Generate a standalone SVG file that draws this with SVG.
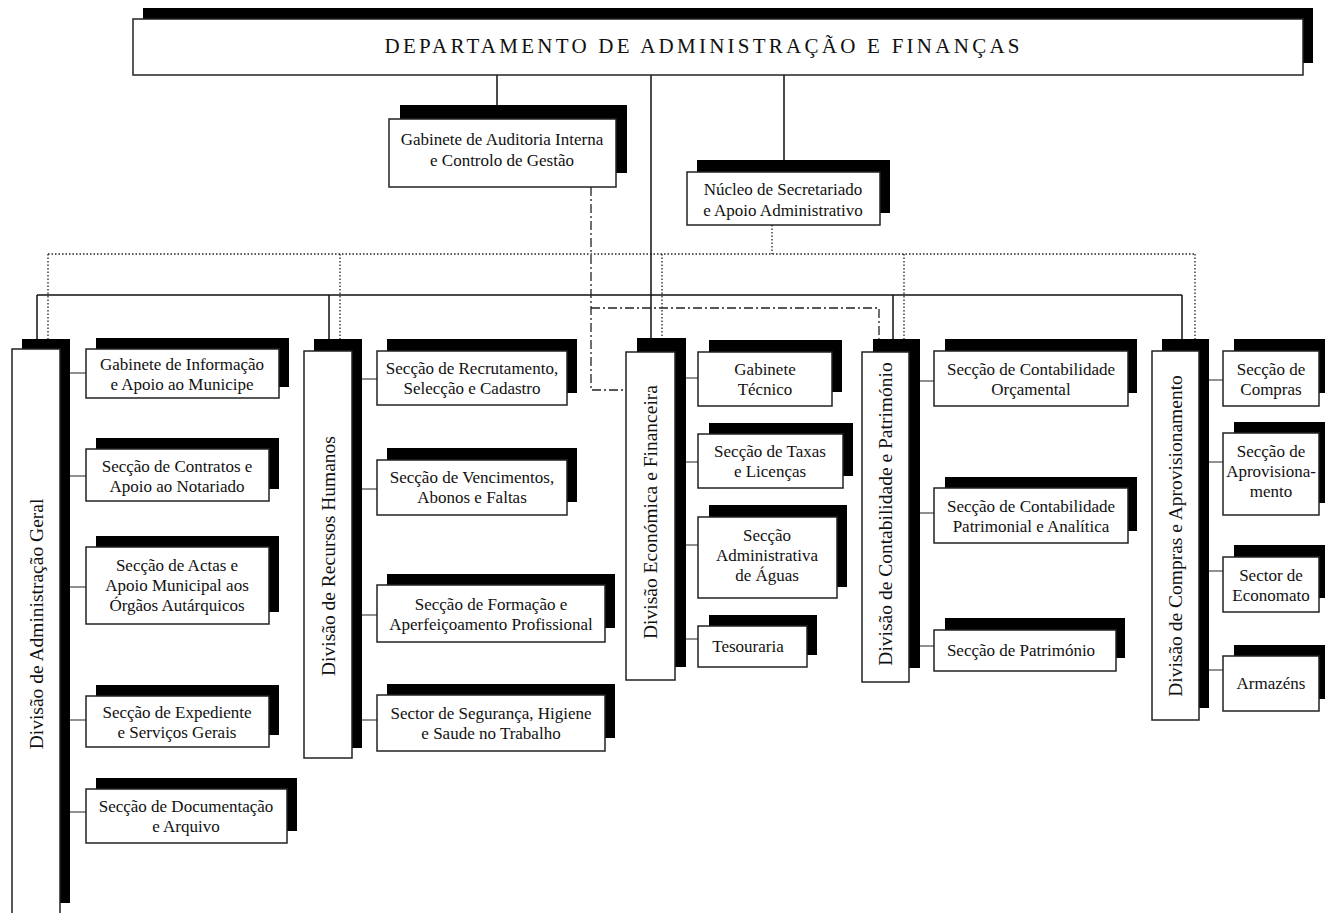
<svg xmlns="http://www.w3.org/2000/svg" width="1325" height="913" viewBox="0 0 1325 913">
<style>
.sh{fill:#000}
.bx{fill:#fff;stroke:#222;stroke-width:1.5}
.t{font-family:"Liberation Serif","Times New Roman",serif;font-size:17px;text-anchor:middle;fill:#111}
.dv{font-size:19.5px}
.hd{font-size:21px}
.ln{stroke:#111;stroke-width:1.5;fill:none}
.cn{stroke:#222;stroke-width:1.2;fill:none}
.dot{stroke:#222;stroke-width:1.3;stroke-dasharray:1.5 2;fill:none}
.dd{stroke:#222;stroke-width:1.3;stroke-dasharray:9 3 2 3;fill:none}
</style>
<rect width="1325" height="913" fill="#fff"/>

<g id="connectors">
  <path class="ln" d="M497 75V105M651 75V339M784 75V160"/>
  <path class="ln" d="M37 295H1182M37 295V340M329 295V340M893 295V339M1182 295V339"/>
  <path class="dot" d="M772 225V254M48 254H1195M48 254V340M340 254V340M662 254V338M904 254V339M1195 254V339"/>
  <path class="dd" d="M591 187V390H626M591 308H879V339"/>
  <path class="cn" d="M70 373H86M70 476H86M70 587H86M70 720H86M70 812H86"/>
  <path class="cn" d="M362 379H377M362 489H377M362 615H377M362 720H377"/>
  <path class="cn" d="M686 378H698M686 462H698M686 545H698M686 639H698"/>
  <path class="cn" d="M920 381H934M920 513H934M920 646H934"/>
  <path class="cn" d="M1209 380H1223M1209 462H1223M1209 571H1223M1209 670H1223"/>
</g>

<g id="departamento">
  <rect class="sh" x="143" y="8" width="1170" height="55"/>
  <rect class="bx" x="133" y="19" width="1170" height="56"/>
  <text class="t hd" x="702" y="53" textLength="635" lengthAdjust="spacing">DEPARTAMENTO DE ADMINISTRAÇÃO E FINANÇAS</text>
</g>

<g id="gabinete-auditoria">
  <rect class="sh" x="400" y="105" width="227" height="68"/>
  <rect class="bx" x="389" y="119" width="227" height="68"/>
  <text class="t" x="502" y="145">Gabinete de Auditoria Interna</text>
  <text class="t" x="502" y="166">e Controlo de Gestão</text>
</g>

<g id="nucleo">
  <rect class="sh" x="697" y="160" width="193" height="53"/>
  <rect class="bx" x="687" y="172" width="193" height="53"/>
  <text class="t" x="783" y="195">Núcleo de Secretariado</text>
  <text class="t" x="783" y="216">e Apoio Administrativo</text>
</g>

<g id="div-adm-geral">
  <rect class="sh" x="22" y="339" width="48" height="564"/>
  <rect class="bx" x="12" y="349" width="48" height="575"/>
  <text class="t dv" transform="translate(36,624) rotate(-90)" y="6.5">Divisão de Administração Geral</text>
</g>
<g id="gab-informacao">
  <rect class="sh" x="96" y="338" width="193" height="49"/>
  <rect class="bx" x="86" y="349" width="193" height="49"/>
  <text class="t" x="182" y="370">Gabinete de Informação</text>
  <text class="t" x="182" y="390">e Apoio ao Municipe</text>
</g>
<g id="sec-contratos">
  <rect class="sh" x="96" y="438" width="183" height="51"/>
  <rect class="bx" x="86" y="449" width="183" height="52"/>
  <text class="t" x="177" y="472">Secção de Contratos e</text>
  <text class="t" x="177" y="492">Apoio ao Notariado</text>
</g>
<g id="sec-actas">
  <rect class="sh" x="96" y="536" width="183" height="76"/>
  <rect class="bx" x="86" y="547" width="183" height="77"/>
  <text class="t" x="177" y="571">Secção de Actas e</text>
  <text class="t" x="177" y="591">Apoio Municipal aos</text>
  <text class="t" x="177" y="611">Órgãos Autárquicos</text>
</g>
<g id="sec-expediente">
  <rect class="sh" x="96" y="685" width="183" height="50"/>
  <rect class="bx" x="86" y="696" width="183" height="51"/>
  <text class="t" x="177" y="718">Secção de Expediente</text>
  <text class="t" x="177" y="738">e Serviços Gerais</text>
</g>
<g id="sec-documentacao">
  <rect class="sh" x="96" y="778" width="201" height="53"/>
  <rect class="bx" x="86" y="789" width="201" height="54"/>
  <text class="t" x="186" y="812">Secção de Documentação</text>
  <text class="t" x="186" y="832">e Arquivo</text>
</g>

<g id="div-rh">
  <rect class="sh" x="314" y="339" width="48" height="409"/>
  <rect class="bx" x="304" y="351" width="48" height="407"/>
  <text class="t dv" transform="translate(328,556) rotate(-90)" y="6.5">Divisão de Recursos Humanos</text>
</g>
<g id="sec-recrutamento">
  <rect class="sh" x="387" y="339" width="190" height="54"/>
  <rect class="bx" x="377" y="351" width="190" height="54"/>
  <text class="t" x="472" y="374">Secção de Recrutamento,</text>
  <text class="t" x="472" y="394">Selecção e Cadastro</text>
</g>
<g id="sec-vencimentos">
  <rect class="sh" x="387" y="448" width="190" height="54"/>
  <rect class="bx" x="377" y="460" width="190" height="55"/>
  <text class="t" x="472" y="483">Secção de Vencimentos,</text>
  <text class="t" x="472" y="503">Abonos e Faltas</text>
</g>
<g id="sec-formacao">
  <rect class="sh" x="387" y="574" width="228" height="54"/>
  <rect class="bx" x="377" y="585" width="228" height="57"/>
  <text class="t" x="491" y="610">Secção de Formação e</text>
  <text class="t" x="491" y="630">Aperfeiçoamento Profissional</text>
</g>
<g id="sec-seguranca">
  <rect class="sh" x="387" y="684" width="228" height="54"/>
  <rect class="bx" x="377" y="695" width="228" height="56"/>
  <text class="t" x="491" y="719">Sector de Segurança, Higiene</text>
  <text class="t" x="491" y="739">e Saude no Trabalho</text>
</g>

<g id="div-economica">
  <rect class="sh" x="637" y="338" width="49" height="329"/>
  <rect class="bx" x="626" y="352" width="49" height="328"/>
  <text class="t dv" transform="translate(650,512) rotate(-90)" y="6.5">Divisão Económica e Financeira</text>
</g>
<g id="gab-tecnico">
  <rect class="sh" x="709" y="340" width="133" height="52"/>
  <rect class="bx" x="698" y="352" width="134" height="54"/>
  <text class="t" x="765" y="375">Gabinete</text>
  <text class="t" x="765" y="395">Técnico</text>
</g>
<g id="sec-taxas">
  <rect class="sh" x="709" y="423" width="144" height="53"/>
  <rect class="bx" x="698" y="434" width="145" height="54"/>
  <text class="t" x="770" y="457">Secção de Taxas</text>
  <text class="t" x="770" y="477">e Licenças</text>
</g>
<g id="sec-aguas">
  <rect class="sh" x="709" y="505" width="138" height="82"/>
  <rect class="bx" x="698" y="517" width="139" height="81"/>
  <text class="t" x="767" y="541">Secção</text>
  <text class="t" x="767" y="561">Administrativa</text>
  <text class="t" x="767" y="581">de Águas</text>
</g>
<g id="tesouraria">
  <rect class="sh" x="709" y="615" width="108" height="40"/>
  <rect class="bx" x="698" y="626" width="109" height="41"/>
  <text class="t" x="748" y="652">Tesouraria</text>
</g>

<g id="div-contabilidade">
  <rect class="sh" x="873" y="339" width="47" height="329"/>
  <rect class="bx" x="862" y="352" width="47" height="330"/>
  <text class="t dv" transform="translate(885,514) rotate(-90)" y="6.5">Divisão de Contabilidade e Património</text>
</g>
<g id="sec-orcamental">
  <rect class="sh" x="945" y="339" width="192" height="54"/>
  <rect class="bx" x="934" y="351" width="194" height="55"/>
  <text class="t" x="1031" y="375">Secção de Contabilidade</text>
  <text class="t" x="1031" y="395">Orçamental</text>
</g>
<g id="sec-patrimonial">
  <rect class="sh" x="945" y="477" width="192" height="54"/>
  <rect class="bx" x="934" y="488" width="194" height="55"/>
  <text class="t" x="1031" y="512">Secção de Contabilidade</text>
  <text class="t" x="1031" y="532">Patrimonial e Analítica</text>
</g>
<g id="sec-patrimonio">
  <rect class="sh" x="945" y="618" width="180" height="40"/>
  <rect class="bx" x="934" y="630" width="182" height="41"/>
  <text class="t" x="1021" y="656">Secção de Património</text>
</g>

<g id="div-compras">
  <rect class="sh" x="1162" y="339" width="47" height="369"/>
  <rect class="bx" x="1152" y="351" width="47" height="369"/>
  <text class="t dv" transform="translate(1175,536) rotate(-90)" y="6.5">Divisão de Compras e Aprovisionamento</text>
</g>
<g id="sec-compras">
  <rect class="sh" x="1234" y="339" width="96" height="54"/>
  <rect class="bx" x="1223" y="351" width="96" height="55"/>
  <text class="t" x="1271" y="375">Secção de</text>
  <text class="t" x="1271" y="395">Compras</text>
</g>
<g id="sec-aprovisionamento">
  <rect class="sh" x="1234" y="422" width="96" height="81"/>
  <rect class="bx" x="1223" y="433" width="96" height="82"/>
  <text class="t" x="1271" y="457">Secção de</text>
  <text class="t" x="1271" y="477">Aprovisiona-</text>
  <text class="t" x="1271" y="497">mento</text>
</g>
<g id="sector-economato">
  <rect class="sh" x="1234" y="545" width="96" height="53"/>
  <rect class="bx" x="1223" y="557" width="96" height="55"/>
  <text class="t" x="1271" y="581">Sector de</text>
  <text class="t" x="1271" y="601">Economato</text>
</g>
<g id="armazens">
  <rect class="sh" x="1234" y="645" width="96" height="54"/>
  <rect class="bx" x="1223" y="656" width="96" height="55"/>
  <text class="t" x="1271" y="689">Armazéns</text>
</g>
</svg>
